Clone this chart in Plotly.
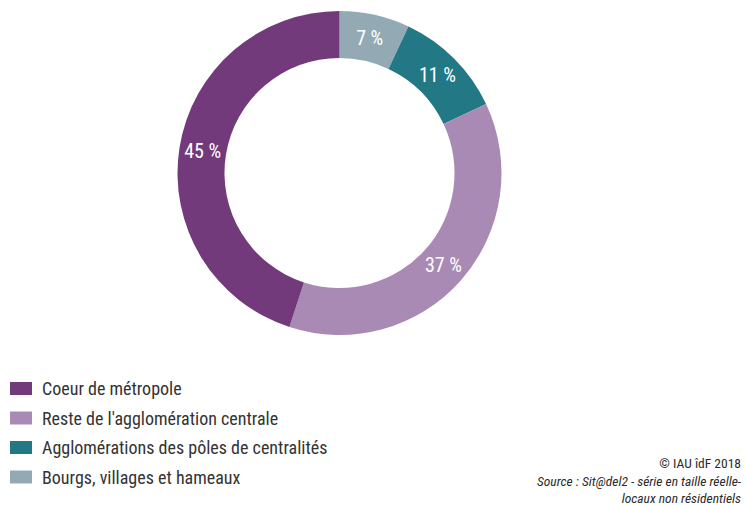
import plotly.graph_objects as go

# Répartition des surfaces de locaux non résidentiels par type d'espace
categories = [
    "Coeur de métropole",
    "Reste de l'agglomération centrale",
    "Agglomérations des pôles de centralités",
    "Bourgs, villages et hameaux",
]
shares = [45, 37, 11, 7]
colors = ["#733a7b", "#a98ab4", "#237886", "#93aab5"]

FONT = "Roboto Condensed, Roboto, sans-serif"
W, H = 745, 505

# donut geometry (pixels)
cx, cy, r = 339.5, 173, 162

# slices run clockwise from 12 o'clock, starting with the smallest area type
order = list(reversed(range(len(categories))))

fig = go.Figure(
    go.Pie(
        labels=[categories[i] for i in order],
        values=[shares[i] for i in order],
        marker=dict(colors=[colors[i] for i in order], line=dict(width=0)),
        hole=0.71,
        sort=False,
        direction="clockwise",
        rotation=0,
        texttemplate="%{value} %",
        textposition="inside",
        insidetextorientation="horizontal",
        textfont=dict(family=FONT, size=20, color="white"),
        showlegend=False,
        hoverinfo="label+percent",
        domain=dict(
            x=[(cx - r) / W, (cx + r) / W],
            y=[(H - cy - r) / H, (H - cy + r) / H],
        ),
    )
)

# legend drawn as swatches + labels
shapes = []
annotations = []
row_y = [388.5, 418, 447.5, 477]
for name, col, y in zip(categories, colors, row_y):
    shapes.append(
        dict(
            type="rect", xref="paper", yref="paper",
            x0=10 / W, x1=32 / W,
            y0=(H - y - 6.5) / H, y1=(H - y + 6.5) / H,
            fillcolor=col, line=dict(width=0),
        )
    )
    annotations.append(
        dict(
            x=40 / W, y=(H - y) / H, xref="paper", yref="paper",
            text=name, showarrow=False, xanchor="left", yanchor="middle",
            font=dict(family=FONT, size=18, color="#333333"),
        )
    )

# credits block
annotations.append(
    dict(
        x=744 / W, y=(H - 453) / H, xref="paper", yref="paper",
        text=(
            "© IAU îdF 2018<br>"
            "<i>Source : Sit@del2 - série en taille réelle-</i><br>"
            "<i>locaux non résidentiels</i>"
        ),
        showarrow=False, xanchor="right", yanchor="top", align="right",
        font=dict(family=FONT, size=13.5, color="#2b2b2b"),
    )
)

fig.update_layout(
    width=W, height=H,
    margin=dict(l=0, r=0, t=0, b=0),
    paper_bgcolor="white",
    plot_bgcolor="white",
    shapes=shapes,
    annotations=annotations,
)

fig.write_html("out.html")
